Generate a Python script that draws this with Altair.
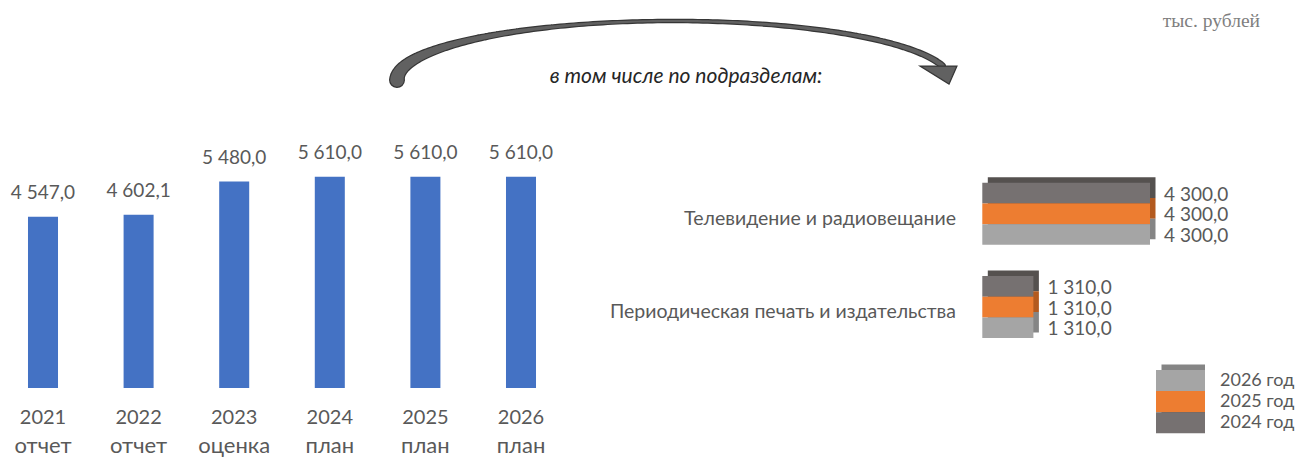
import altair as alt
import pandas as pd
import numpy as np

# ---------------- data ----------------
years = ["2021", "2022", "2023", "2024", "2025", "2026"]
statuses = ["отчет", "отчет", "оценка", "план", "план", "план"]
totals = [4547.0, 4602.1, 5480.0, 5610.0, 5610.0, 5610.0]

sections = ["Телевидение и радиовещание", "Периодическая печать и издательства"]
plan_years = ["2024", "2025", "2026"]
tv_values = [4300.0, 4300.0, 4300.0]
press_values = [1310.0, 1310.0, 1310.0]
legend_years = ["2026", "2025", "2024"]
legend_labels = ["2026 год", "2025 год", "2024 год"]

unit_label = ["тыс. рублей"]
subtitle = ["в том числе по подразделам:"]

# ---------------- styles ----------------
FONT = "Lato"
TXT = "#595959"
BLUE = "#4472C4"
front_colors = ["#767171", "#ED7D31", "#A5A5A5"]   # 2024, 2025, 2026
side_colors = ["#55514f", "#b35a1f", "#858585"]


def fmt(v):
    return f"{v:,.1f}".replace(",", " ").replace(".", ",")


# ---------------- left chart ----------------
left_df = pd.DataFrame({"year": years, "status": statuses, "total": totals})
left_df["label"] = [fmt(v) for v in totals]

xb = alt.X("year:N", sort=years,
           scale=alt.Scale(domain=years, range=[-12.8, 560.8], paddingInner=0.686, paddingOuter=0.343),
           axis=None)
yb = alt.Y("total:Q", scale=alt.Scale(domain=[0, 6000], range=[380, 154]), axis=None)

bars = alt.Chart(left_df).mark_bar(color=BLUE).encode(x=xb, y=yb)
bar_vals = alt.Chart(left_df).mark_text(font=FONT, fontSize=19, color=TXT, dy=-24, baseline="middle").encode(
    x=xb, y=yb, text="label:N")
lab_year = alt.Chart(left_df).mark_text(font=FONT, fontSize=20, color=TXT, baseline="middle").encode(
    x=xb, y=alt.value(410), text="year:N")
lab_status = alt.Chart(left_df).mark_text(font=FONT, fontSize=22, color=TXT, baseline="middle").encode(
    x=xb, y=alt.value(438), text="status:N")

# ---------------- right chart ----------------
right_df = pd.DataFrame({
    "section": [sections[0]] * 3 + [sections[1]] * 3,
    "year": plan_years * 2,
    "value": tv_values + press_values,
})
right_df["label"] = [fmt(v) for v in right_df["value"]]

R0, R1 = 159.15, 345.75
D = 5.5


def ysec(shift=0.0):
    return alt.Y("section:N", sort=sections,
                 scale=alt.Scale(domain=sections, range=[R0 + shift, R1 + shift],
                                 paddingInner=0.335, paddingOuter=0.1675),
                 axis=None)


yo = alt.YOffset("year:N", sort=plan_years,
                 scale=alt.Scale(type="band", domain=plan_years, paddingInner=0, paddingOuter=0))
xr = alt.X("value:Q", scale=alt.Scale(domain=[0, 5000], range=[974.3, 974.3 + 5000 * 167.7 / 4300]), axis=None)

col_front = alt.Color("year:N", scale=alt.Scale(domain=plan_years, range=front_colors), legend=None)
col_side = alt.Color("year:N", scale=alt.Scale(domain=plan_years, range=side_colors), legend=None)

r_back = alt.Chart(right_df).mark_bar(xOffset=D).encode(x=xr, y=ysec(-D), yOffset=yo, color=col_side)
r_front = alt.Chart(right_df).mark_bar().encode(x=xr, y=ysec(), yOffset=yo, color=col_front)
r_vals = alt.Chart(right_df).mark_text(font=FONT, fontSize=19, color=TXT, align="left", dx=14, dy=1.5,
                                       baseline="middle").encode(
    x=xr, y=ysec(), yOffset=yo, text="label:N")

sec_df = pd.DataFrame({"section": sections})
r_cats = alt.Chart(sec_df).mark_text(font=FONT, fontSize=19.5, color=TXT, align="right", dy=5,
                                     baseline="middle").encode(
    x=alt.value(948), y=ysec(), text="section:N")

# ---------------- legend (stacked box) ----------------
leg_df = pd.DataFrame({"year": legend_years, "label": legend_labels})


def yleg(shift=0.0):
    return alt.Y("year:N", sort=legend_years,
                 scale=alt.Scale(domain=legend_years, range=[362 + shift, 425.3 + shift],
                                 paddingInner=0, paddingOuter=0),
                 axis=None)


leg_back = alt.Chart(leg_df).mark_bar(xOffset=D).encode(
    x=alt.value(1148), x2=alt.value(1197), y=yleg(-D), color=col_side)
leg_front = alt.Chart(leg_df).mark_bar().encode(
    x=alt.value(1148), x2=alt.value(1197), y=yleg(), color=col_front)
leg_text = alt.Chart(leg_df).mark_text(font=FONT, fontSize=18, color=TXT, align="left",
                                       baseline="middle").encode(
    x=alt.value(1212), y=yleg(), text="label:N")

# ---------------- annotations ----------------
sub_df = pd.DataFrame({"t": subtitle})
sub_text = alt.Chart(sub_df).mark_text(font=FONT, fontSize=21, fontStyle="italic", color="#262626",
                                       baseline="middle").encode(
    x=alt.value(678), y=alt.value(69), text="t:N")

unit_df = pd.DataFrame({"t": unit_label})
unit_text = alt.Chart(unit_df).mark_text(font="Liberation Serif", fontSize=19.5, color="#7f7f7f",
                                         align="right", baseline="middle").encode(
    x=alt.value(1252), y=alt.value(13), text="t:N")

# decorative curved arrow (elliptical arc geometry)
cx, cy, rx, ry = 665.8, 72.0, 276.8, 59.0
th_end = np.arccos(0.97)
th = np.linspace(np.pi, th_end, 160)
w = np.where(th > np.pi / 2,
             4.5 + 11.5 * ((th - np.pi / 2) / (np.pi / 2)) ** 2,
             4.5 + 2.5 * ((np.pi / 2 - th) / (np.pi / 2 - th_end)))
arrow_df = pd.DataFrame({"i": np.arange(len(th)),
                         "px": cx + rx * np.cos(th),
                         "py": cy - ry * np.sin(th),
                         "w": w})
arrow_df["w2"] = np.maximum(arrow_df["w"] - 2.4, 1.0)
ax_ = alt.X("px:Q", scale=alt.Scale(domain=[0, 1288], range=[0, 1288]), axis=None)
ay_ = alt.Y("py:Q", scale=alt.Scale(domain=[0, 450], range=[0, 450]), axis=None)
arrow_outer = alt.Chart(arrow_df).mark_trail(color="#363636").encode(
    x=ax_, y=ay_, size=alt.Size("w:Q", scale=None, legend=None), order="i:Q")
arrow_inner = alt.Chart(arrow_df).mark_trail(color="#616161").encode(
    x=ax_, y=ay_, size=alt.Size("w2:Q", scale=None, legend=None), order="i:Q")

head_df = pd.DataFrame({"px": [934.0], "py": [64.0]})
head_shape = "M -1 -0.27 L 0.68 -0.27 L 0.32 0.55 Z"
arrow_head = alt.Chart(head_df).mark_point(shape=head_shape, size=1936, filled=True, fill="#616161",
                                           stroke="#363636", strokeWidth=1.2, opacity=1).encode(
    x=ax_, y=ay_)

chart = alt.layer(
    arrow_outer, arrow_inner, arrow_head, sub_text, unit_text,
    bars, bar_vals, lab_year, lab_status,
    r_back, r_front, r_vals, r_cats,
    leg_back, leg_front, leg_text,
).resolve_scale(
    x="independent", y="independent", color="independent", size="independent", yOffset="independent"
).properties(
    width=1288, height=450, padding=0, autosize="none"
).configure_view(stroke=None)

chart.save("out.html", embed_options={"renderer": "svg", "actions": False})
